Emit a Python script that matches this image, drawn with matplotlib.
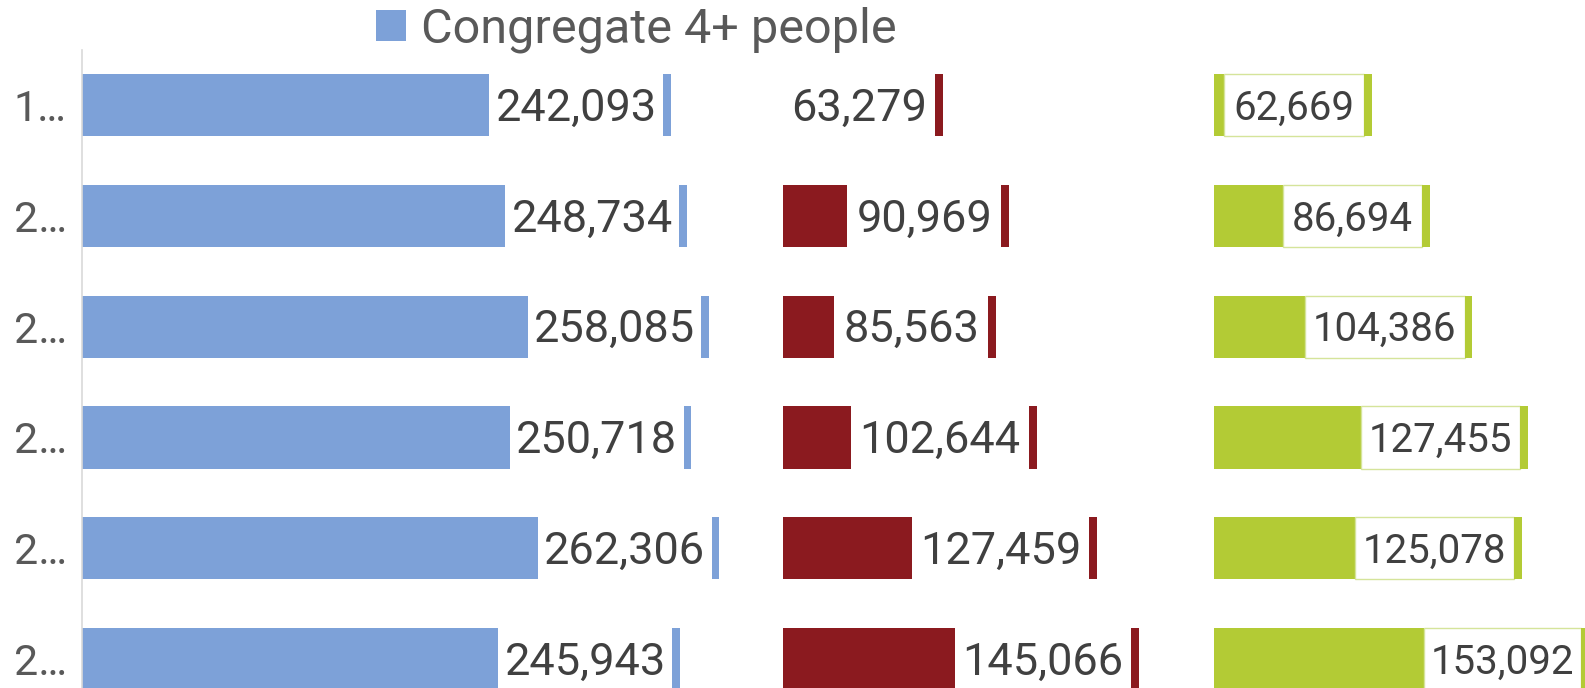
import matplotlib.pyplot as plt
from matplotlib.patches import Patch

plt.rcParams['font.family'] = ['Roboto', 'DejaVu Sans']

# categories (truncated in the original)
years = ['1…', '2…', '2…', '2…', '2…', '2…']

# blue panel: label value and length of the coloured part of the bar
congregate = [242093, 248734, 258085, 250718, 262306, 245943]
congregate_bar = [169700, 176400, 185800, 178300, 190000, 173400]

# red panel
red_values = [63279, 90969, 85563, 102644, 127459, 145066]
red_bar = [0, 26700, 21100, 28300, 53750, 71700]

# green panel
green_values = [62669, 86694, 104386, 127455, 125078, 153092]
green_bar = [4300, 28600, 37800, 61100, 58600, 87400]

blue = '#7DA1D8'
red = '#8B1A1F'
green = '#B3CB35'

W, H = 1585, 688
fig = plt.figure(figsize=(W / 100, H / 100), dpi=100)
ax = fig.add_axes([82 / W, 0, 1 - 82 / W, 1 - 49.7 / H])

scale = 0.0024  # px per unit
ax.set_xlim(0, (W - 82) / scale)
ax.set_ylim(5.261, -0.5)

cap = 3200
bh = 0.56


def panel(offset, vals, bars, color, fs, dy, edge='none'):
    y = list(range(len(vals)))
    ax.barh(y, bars, left=offset, height=bh, color=color, linewidth=0)
    white = [v - b for v, b in zip(vals, bars)]
    ax.barh(y, white, left=[offset + b for b in bars], height=bh,
            color='white', edgecolor=edge, linewidth=1)
    ax.barh(y, cap, left=[offset + v for v in vals], height=bh,
            color=color, linewidth=0)
    for i, (v, b) in enumerate(zip(vals, bars)):
        ax.text(offset + (b + v) / 2, i + dy, f'{v:,}', ha='center',
                va='baseline', fontsize=fs, color='#404040')


panel(0, congregate, congregate_bar, blue, 32.5, 0.14)
panel((783 - 82) / scale, red_values, red_bar, red, 32.5, 0.14)
panel((1214 - 82) / scale, green_values, green_bar, green, 29, 0.13,
      edge='#D5E49A')

ax.set_yticks(range(len(years)))
ax.set_yticklabels(years, fontsize=31, color='#595959')
ax.tick_params(axis='y', length=0, pad=11)
ax.set_xticks([])
for s in ['top', 'right', 'bottom']:
    ax.spines[s].set_visible(False)
ax.spines['left'].set_color('#D9D9D9')
ax.spines['left'].set_linewidth(1.2)

em = 35 * 100 / 72
fig.legend(handles=[Patch(facecolor=blue, label='Congregate 4+ people')],
           loc='center left', bbox_to_anchor=(376 / W, 1 - 30 / H),
           frameon=False, borderpad=0, borderaxespad=0,
           handlelength=30 / em, handleheight=30 / em,
           handletextpad=15 / em, fontsize=35, labelcolor='#595959')

fig.savefig('out.png', dpi=100)
